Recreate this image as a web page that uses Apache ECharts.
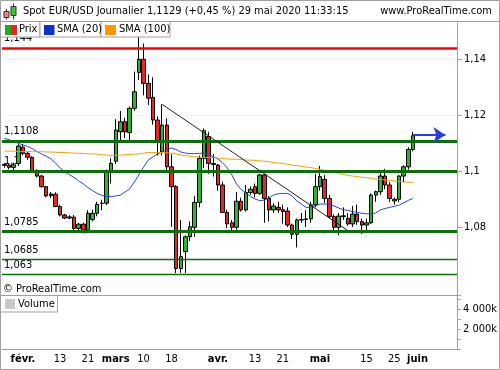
<!DOCTYPE html>
<html><head><meta charset="utf-8">
<script src="https://cdn.jsdelivr.net/npm/echarts@6/dist/echarts.min.js"></script>
<style>html,body{margin:0;padding:0;background:#fff}#c{width:500px;height:370px}</style>
</head><body><div id="c"></div>
<script>
// ---------- DATA ----------
const firstDate = '2020-01-28';
const slotCount = 98; // trading days shown on the axis (incl. empty future slots)

const open = [1.1023,1.1021,1.1013,1.1027,1.1085,1.1063,1.1049,1.1001,1.0982,1.0944,
1.0912,1.0917,1.0873,1.0843,1.0832,1.0835,1.0795,1.0810,1.0789,1.0827,
1.0849,1.0884,1.0885,1.1000,1.1035,1.1140,1.1176,1.1137,1.1224,1.1352,
1.1399,1.1313,1.1263,1.1182,1.1069,1.1164,1.1015,1.0944,1.0652,1.0712,
1.0765,1.0799,1.0888,1.1045,1.1123,1.1027,1.1021,1.0950,1.0852,1.0815,
1.0799,1.0892,1.0861,1.0923,1.0944,1.0920,1.0986,1.0902,1.0861,1.0870,
1.0862,1.0857,1.0807,1.0774,1.0825,1.0827,1.0829,1.0879,1.0944,1.0970,
1.0902,1.0837,1.0799,1.0837,1.0831,1.0811,1.0846,1.0819,1.0807,1.0815,
1.0914,1.0926,1.0982,1.0950,1.0893,1.0899,1.0982,1.1015,1.1077];
const close = [1.1020,1.1013,1.1022,1.1089,1.1063,1.1049,1.1001,1.0982,1.0944,1.0911,
1.0918,1.0873,1.0843,1.0832,1.0836,1.0795,1.0810,1.0789,1.0849,1.0849,
1.0881,1.0885,1.1000,1.1027,1.1146,1.1176,1.1140,1.1224,1.1283,1.1399,
1.1313,1.1260,1.1182,1.1105,1.1164,1.1015,1.0944,1.0652,1.0694,1.0765,
1.0801,1.0888,1.1045,1.1144,1.1027,1.1023,1.0950,1.0852,1.0811,1.0799,
1.0892,1.0861,1.0923,1.0935,1.0920,1.0986,1.0902,1.0861,1.0875,1.0861,
1.0855,1.0807,1.0774,1.0825,1.0827,1.0829,1.0879,1.0944,1.0980,1.0902,
1.0837,1.0799,1.0839,1.0840,1.0811,1.0846,1.0819,1.0807,1.0815,1.0914,
1.0926,1.0982,1.0950,1.0902,1.0899,1.0982,1.1015,1.1077,1.1126];
const low = [1.1012,1.1006,1.1004,1.1018,1.1056,1.1040,1.0993,1.0977,1.0940,1.0906,
1.0904,1.0871,1.0838,1.0828,1.0828,1.0790,1.0788,1.0777,1.0784,1.0820,
1.0838,1.0860,1.0878,1.0955,1.1025,1.1111,1.1118,1.1111,1.1215,1.1325,
1.1270,1.1236,1.1165,1.1055,1.1055,1.0998,1.0801,1.0635,1.0636,1.0635,
1.0750,1.0765,1.0870,1.1010,1.0990,1.0980,1.0930,1.0850,1.0796,1.0780,
1.0790,1.0855,1.0855,1.0915,1.0905,1.0915,1.0815,1.0820,1.0850,1.0850,
1.0812,1.0800,1.0757,1.0727,1.0815,1.0800,1.0815,1.0870,1.0930,1.0885,
1.0830,1.0782,1.0770,1.0825,1.0805,1.0800,1.0808,1.0775,1.0790,1.0810,
1.0890,1.0915,1.0935,1.0890,1.0880,1.0890,1.0960,1.1005,1.1070];
const high = [1.1028,1.1026,1.1030,1.1096,1.1096,1.1068,1.1053,1.1006,1.0986,1.0947,
1.0925,1.0924,1.0880,1.0847,1.0842,1.0843,1.0815,1.0815,1.0860,1.0862,
1.0890,1.0897,1.1005,1.1045,1.1185,1.1214,1.1190,1.1230,1.1355,1.1495,
1.1455,1.1345,1.1335,1.1195,1.1238,1.1188,1.1060,1.0950,1.0825,1.0770,
1.0820,1.0910,1.1055,1.1152,1.1140,1.1060,1.1025,1.0962,1.0862,1.0825,
1.0925,1.0905,1.0950,1.0945,1.0955,1.0990,1.0990,1.0910,1.0885,1.0890,
1.0880,1.0870,1.0812,1.0830,1.0850,1.0860,1.0890,1.0990,1.1018,1.0985,
1.0915,1.0845,1.0850,1.0870,1.0850,1.0875,1.0880,1.0830,1.0830,1.0920,
1.0930,1.0995,1.1008,1.0960,1.0905,1.0985,1.1020,1.1085,1.1140];
const sma20 = [1.1116,1.1112,1.1105,1.1099,1.1093,1.1088,1.1080,1.1070,1.1061,1.1053,
1.1044,1.1029,1.1011,1.0998,1.0987,1.0977,1.0965,1.0954,1.0941,1.0930,
1.0920,1.0913,1.0909,1.0908,1.0911,1.0914,1.0925,1.0936,1.0961,1.0986,
1.1014,1.1039,1.1050,1.1061,1.1068,1.1076,1.1082,1.1077,1.1068,1.1064,
1.1062,1.1062,1.1063,1.1064,1.1059,1.1051,1.1043,1.1030,1.1011,1.0986,
1.0954,1.0934,1.0922,1.0909,1.0900,1.0894,1.0896,1.0904,1.0914,1.0919,
1.0920,1.0920,1.0911,1.0893,1.0882,1.0870,1.0871,1.0876,1.0882,1.0882,
1.0881,1.0875,1.0868,1.0862,1.0859,1.0855,1.0852,1.0849,1.0847,1.0847,
1.0850,1.0861,1.0866,1.0870,1.0874,1.0878,1.0886,1.0895,1.0902];
const sma100 = [1.1071,1.1071,1.1071,1.1070,1.1070,1.1070,1.1069,1.1069,1.1069,1.1068,
1.1068,1.1067,1.1066,1.1066,1.1065,1.1064,1.1063,1.1063,1.1061,1.1061,
1.1060,1.1058,1.1057,1.1056,1.1056,1.1057,1.1058,1.1059,1.1060,1.1061,
1.1064,1.1066,1.1066,1.1066,1.1066,1.1065,1.1064,1.1061,1.1057,1.1055,
1.1053,1.1051,1.1049,1.1049,1.1048,1.1048,1.1046,1.1045,1.1043,1.1042,
1.1042,1.1041,1.1039,1.1039,1.1038,1.1036,1.1035,1.1033,1.1030,1.1029,
1.1027,1.1024,1.1021,1.1019,1.1017,1.1014,1.1012,1.1009,1.1006,1.1003,
1.1000,1.0996,1.0991,1.0988,1.0984,1.0982,1.0980,1.0978,1.0976,1.0974,
1.0971,1.0970,1.0968,1.0966,1.0964,1.0963,1.0961,1.0960,1.0959];

const levelValues = [1.144, 1.1108, 1.1, 1.0785, 1.0685, 1.063];
const levelLabels = ['1,144', '1,1108', '1,1', '1,0785', '1,0685', '1,063'];
const trendStart = ['2020-03-16', 1.1238];
const trendEnd = ['2020-05-11', 1.0787];
const lastPrice = 1.1129;
const arrowEndDate = '2020-06-09';

const priceTicks = [1.08, 1.1, 1.12, 1.14];
const volumeTicks = [2000, 4000]; // in thousands

const labelDates = ['2020-02-03','2020-02-13','2020-02-21','2020-03-02','2020-03-10','2020-03-18','2020-04-01','2020-04-13','2020-04-21','2020-05-01','2020-05-15','2020-05-25','2020-06-01'];
const labelTexts = ['févr.','13','21','mars','10','18','avr.','13','21','mai','15','25','juin'];
const tickDates = ['2020-01-28','2020-02-03','2020-02-05','2020-02-13','2020-02-21','2020-03-02','2020-03-10','2020-03-18','2020-03-26','2020-04-03','2020-04-13','2020-04-21','2020-04-29','2020-05-07','2020-05-15','2020-05-25','2020-06-02','2020-06-10'];

const titleText = 'Spot EUR/USD Journalier 1,1129 (+0,45 %) 29 mai 2020 11:33:15';
const siteText = 'www.ProRealTime.com';

// ---------- BUILD ----------
function tradingDays(startISO, count) {
  const out = []; const d = new Date(startISO + 'T00:00:00Z');
  while (out.length < count) {
    const w = d.getUTCDay();
    if (w !== 0 && w !== 6) out.push(d.toISOString().slice(0, 10));
    d.setUTCDate(d.getUTCDate() + 1);
  }
  return out;
}
const dates = tradingDays(firstDate, slotCount);
const candles = open.map((o, i) => [o, close[i], low[i], high[i]]);
const labelMap = {}; labelDates.forEach((d, i) => labelMap[d] = labelTexts[i]);
const tickSet = new Set(tickDates);

const FONT = "'DejaVu Sans Condensed', 'DejaVu Sans', sans-serif";
const GRAY = '#a0a0a0';
const GREENLINE = '#0a700a';
const fmtPrice = v => String(+(+v).toFixed(4)).replace('.', ',');

const levelStyles = [
  {color: '#ff0000', width: 2.5},
  {color: GREENLINE, width: 3},
  {color: GREENLINE, width: 3},
  {color: GREENLINE, width: 3},
  {color: GREENLINE, width: 1.3},
  {color: GREENLINE, width: 1.3}
];

const chart = echarts.init(document.getElementById('c'), null, {renderer: 'canvas'});
const txt = (x, y, text, extra) => Object.assign({
  type: 'text', x, y, z: 101,
  style: Object.assign({text, fill: '#000', font: '11px ' + FONT, textVerticalAlign: 'middle'}, extra || {})
});
const rect = (x, y, w, h, fill, stroke, z) => ({type: 'rect', z: z || 100, shape: {x, y, width: w, height: h}, style: {fill, stroke: stroke || null, lineWidth: 1}});
const line = (x1, y1, x2, y2, stroke, z) => ({type: 'line', z: z || 101, shape: {x1, y1, x2, y2}, style: {stroke, lineWidth: 1}});

chart.setOption({
  animation: false,
  backgroundColor: '#fff',
  grid: [
    {left: 2, width: 455, top: 17, height: 280},
    {left: 2, width: 455, top: 295, height: 54}
  ],
  xAxis: [
    {type: 'category', gridIndex: 0, data: dates, boundaryGap: true, show: false},
    {type: 'category', gridIndex: 1, data: dates, boundaryGap: true,
      axisLine: {lineStyle: {color: GRAY}},
      axisTick: {alignWithLabel: true, length: 3, interval: (i, v) => tickSet.has(v), lineStyle: {color: GRAY}},
      axisLabel: {interval: (i, v) => labelMap[v] !== undefined, margin: 5,
        formatter: v => { const t = labelMap[v] || ''; return /^\d+$/.test(t) ? '{n|' + t + '}' : '{m|' + t + '}'; },
        rich: {n: {fontFamily: FONT, fontSize: 11, color: '#000'}, m: {fontFamily: FONT, fontSize: 11, fontWeight: 'bold', color: '#000'}}},
      splitLine: {show: false}}
  ],
  yAxis: [
    {type: 'value', gridIndex: 0, position: 'right', min: 1.055, max: 1.155, interval: 0.005,
      axisLine: {show: true, lineStyle: {color: GRAY}},
      axisTick: {show: true, length: 5, customValues: priceTicks, lineStyle: {color: GRAY}},
      axisLabel: {customValues: priceTicks, formatter: fmtPrice, margin: 7, color: '#000', fontFamily: FONT, fontSize: 11},
      splitLine: {show: true, lineStyle: {color: '#f2f2f2', width: 1}}},
    {type: 'value', gridIndex: 1, position: 'right', min: 0, max: 5400, interval: 1000,
      axisLine: {show: true, lineStyle: {color: GRAY}},
      axisTick: {show: true, length: 4, lineStyle: {color: GRAY}},
      axisLabel: {customValues: volumeTicks, formatter: v => (v / 1000) + ' 000k', margin: 6, color: '#000', fontFamily: FONT, fontSize: 11},
      splitLine: {show: false}}
  ],
  series: [
    {name: 'levels', type: 'line', xAxisIndex: 0, yAxisIndex: 0, data: [], z: 1,
      markLine: {silent: true, z: 1, precision: 5, symbol: ['none', 'none'],
        lineStyle: {type: 'solid', color: 'rgba(0,0,0,0)', width: 1},
        data: levelValues.map((v, i) => ({yAxis: v, name: levelLabels[i],
          label: {show: true, position: 'insideStartTop', formatter: levelLabels[i], distance: [2, 4], color: '#000', fontFamily: FONT, fontSize: 11}}))}},
    {name: 'Prix', type: 'candlestick', xAxisIndex: 0, yAxisIndex: 0, data: candles, barWidth: 4, z: 2,
      itemStyle: {color: '#2db52d', color0: '#ee2424', borderColor: '#000', borderColor0: '#000', borderWidth: 1}},
    {name: 'SMA (20)', type: 'line', xAxisIndex: 0, yAxisIndex: 0, data: sma20, showSymbol: false, z: 3,
      lineStyle: {color: '#2545dd', width: 1},
      markLine: {silent: true, z: 5, precision: 5, symbol: ['none', 'none'], label: {show: false},
        data: levelValues.map((v, i) => ({yAxis: v, lineStyle: {type: 'solid', color: levelStyles[i].color, width: levelStyles[i].width}})).concat([
          [{coord: trendStart, symbol: 'none', lineStyle: {type: 'solid', color: '#222', width: 1}}, {coord: trendEnd, symbol: 'none'}],
          [{coord: [dates[close.length - 1], lastPrice], symbol: 'none', lineStyle: {type: 'solid', color: '#2b3ee0', width: 2.2}},
           {coord: [arrowEndDate, lastPrice], symbol: 'arrow', symbolSize: [12, 12], itemStyle: {color: '#2b3ee0'}}]
        ])}},
    {name: 'SMA (100)', type: 'line', xAxisIndex: 0, yAxisIndex: 0, data: sma100, showSymbol: false, z: 3,
      lineStyle: {color: '#ff9a00', width: 1}}
  ],
  graphic: [
    rect(0, 0, 500, 21.5, '#fff', null, 100),
    line(0, 21.5, 500, 21.5, GRAY),
    // header icon
    line(6.5, 9, 6.5, 19.5, '#333'),
    rect(4, 11.5, 5, 6, '#f08080', '#333', 101),
    line(13.5, 3.5, 13.5, 19.5, '#333'),
    rect(11, 6.5, 5, 9, '#33cc33', '#333', 101),
    txt(23, 11.5, titleText),
    txt(492, 11.5, siteText, {textAlign: 'right'}),
    // legend boxes
    rect(0.5, 21.5, 39.5, 15.5, '#fff', GRAY, 100),
    rect(5, 25, 6, 10, '#1faa1f', null, 101),
    rect(11, 25, 6, 10, '#ee2222', null, 101),
    txt(19, 29.5, 'Prix'),
    rect(40, 21.5, 61, 15.5, '#fff', GRAY, 100),
    rect(44, 25, 10.5, 10, '#0a32c8', null, 101),
    txt(57, 29.5, 'SMA (20)'),
    rect(101, 21.5, 69, 15.5, '#fff', GRAY, 100),
    rect(105, 25, 11, 10, '#ff9900', null, 101),
    txt(119, 29.5, 'SMA (100)'),
    // copyright + separator
    txt(3, 289, '© ProRealTime.com'),
    line(0, 295.5, 457, 295.5, GRAY),
    // volume legend
    rect(0.5, 295.5, 57, 16.5, '#fff', GRAY, 100),
    rect(5, 299, 10, 10, '#c8c8c8', null, 101),
    txt(18, 304, 'Volume'),
    // outer border
    {type: 'rect', z: 200, shape: {x: 0.5, y: 0.5, width: 499, height: 369}, style: {fill: null, stroke: GRAY, lineWidth: 1}}
  ]
});
</script>
</body></html>
